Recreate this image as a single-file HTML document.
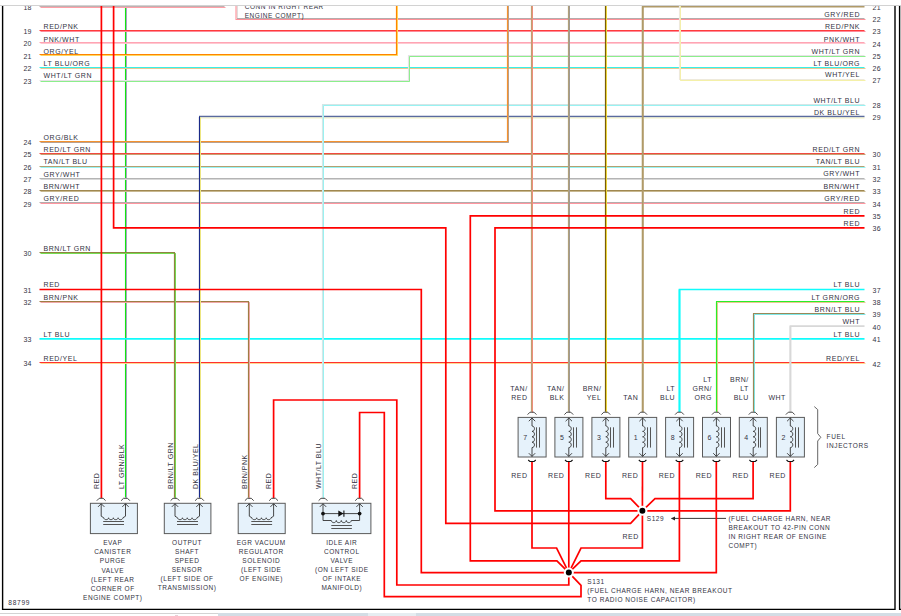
<!DOCTYPE html>
<html><head><meta charset="utf-8"><title>Wiring diagram</title>
<style>
html,body{margin:0;padding:0;background:#fff;overflow:hidden}
svg{display:block}
text{font-family:'Liberation Sans', Arial, sans-serif}
</style></head>
<body>
<svg width="901" height="616" viewBox="0 0 901 616">
<rect width="901" height="616" fill="#fff"/>
<polyline points="126.5,0.5 126.5,498.5" fill="none" stroke="#b0a0c8" stroke-width="1.0" stroke-opacity="1.0"/>
<polyline points="125.5,-0.5 125.5,497.5" fill="none" stroke="#10e610" stroke-width="1.1"/>
<polyline points="40.5,7.5 225.5,7.5" fill="none" stroke="#ffa0a8" stroke-width="1.0" stroke-opacity="1.0"/>
<polyline points="39.5,6.5 224.5,6.5" fill="none" stroke="#c0b0b0" stroke-width="1.1"/>
<path d="M237.2,0 V18" stroke="#c8c0c0" stroke-width="0.8"/>
<path d="M236,0 V19.5 H865.5" fill="none" stroke="#ff9098" stroke-width="1.1"/>
<path d="M237,18.5 H864.5" fill="none" stroke="#b4acac" stroke-width="1.0"/>
<polyline points="40.5,31.5 865.5,31.5" fill="none" stroke="#ff8a9a" stroke-width="1.0" stroke-opacity="1.0"/>
<polyline points="39.5,30.5 864.5,30.5" fill="none" stroke="#ff3b3b" stroke-width="1.1"/>
<polyline points="40.5,43.5 865.5,43.5" fill="none" stroke="#ffc8d0" stroke-width="1.0" stroke-opacity="1.0"/>
<polyline points="39.5,42.5 864.5,42.5" fill="none" stroke="#ffa4b4" stroke-width="1.1"/>
<polyline points="40.5,55.5 397.5,55.5 397.5,0.5" fill="none" stroke="#ffd860" stroke-width="1.0" stroke-opacity="1.0"/>
<polyline points="39.5,54.5 396.5,54.5 396.5,-0.5" fill="none" stroke="#ff8400" stroke-width="1.1"/>
<polyline points="40.5,68.5 865.5,68.5" fill="none" stroke="#e8c890" stroke-width="1.0" stroke-opacity="1.0"/>
<polyline points="39.5,67.5 864.5,67.5" fill="none" stroke="#38f0e8" stroke-width="1.1"/>
<polyline points="40.5,81.5 409.5,81.5 409.5,56.5 865.5,56.5" fill="none" stroke="#8cee8c" stroke-width="1.0" stroke-opacity="1.0"/>
<polyline points="39.5,80.5 408.5,80.5 408.5,55.5 864.5,55.5" fill="none" stroke="#e6e2e6" stroke-width="1.1"/>
<polyline points="642.7,412 642.7,6.6 864.5,6.6" fill="none" stroke="#b09a68" stroke-width="1.7"/>
<polyline points="680.5,0.5 680.5,80.5 865.5,80.5" fill="none" stroke="#f4f0a8" stroke-width="1.0" stroke-opacity="1.0"/>
<polyline points="679.5,-0.5 679.5,79.5 864.5,79.5" fill="none" stroke="#eeeadc" stroke-width="1.1"/>
<polyline points="323.5,498.5 323.5,105.5 865.5,105.5" fill="none" stroke="#98f2f2" stroke-width="1.0" stroke-opacity="1.0"/>
<polyline points="322.5,497.5 322.5,104.5 864.5,104.5" fill="none" stroke="#d4e6e6" stroke-width="1.1"/>
<polyline points="200.5,498.5 200.5,117.5" fill="none" stroke="#f8f080" stroke-width="1.0" stroke-opacity="1.0"/>
<polyline points="199.5,497.5 199.5,116.5" fill="none" stroke="#1a2a88" stroke-width="1.1"/>
<path d="M199,116.5 H864.5" stroke="#5a6a9e" stroke-width="1.3"/><path d="M200,118 H864.5" stroke="#f0f0b0" stroke-width="0.8"/>
<polyline points="40.5,142.5 508.5,142.5 508.5,0.5" fill="none" stroke="#b8a090" stroke-width="1.0" stroke-opacity="1.0"/>
<polyline points="39.5,141.5 507.5,141.5 507.5,-0.5" fill="none" stroke="#f4922e" stroke-width="1.1"/>
<polyline points="40.5,154.5 865.5,154.5" fill="none" stroke="#c8a070" stroke-width="1.0" stroke-opacity="1.0"/>
<polyline points="39.5,153.5 864.5,153.5" fill="none" stroke="#f04a40" stroke-width="1.1"/>
<polyline points="40.5,167.5 865.5,167.5" fill="none" stroke="#98f4f4" stroke-width="1.0" stroke-opacity="1.0"/>
<polyline points="39.5,166.5 864.5,166.5" fill="none" stroke="#b4a070" stroke-width="1.1"/>
<polyline points="40.5,179.5 865.5,179.5" fill="none" stroke="#d8d8d8" stroke-width="1.0" stroke-opacity="1.0"/>
<polyline points="39.5,178.5 864.5,178.5" fill="none" stroke="#b4b4b4" stroke-width="1.1"/>
<polyline points="40.5,191.5 865.5,191.5" fill="none" stroke="#c8b890" stroke-width="1.0" stroke-opacity="1.0"/>
<polyline points="39.5,190.5 864.5,190.5" fill="none" stroke="#a08850" stroke-width="1.1"/>
<polyline points="40.5,203.5 865.5,203.5" fill="none" stroke="#ff96a0" stroke-width="1.0" stroke-opacity="1.0"/>
<polyline points="39.5,202.5 864.5,202.5" fill="none" stroke="#b4acac" stroke-width="1.1"/>
<polyline points="40.5,253.5 175.5,253.5 175.5,498.5" fill="none" stroke="#74dc50" stroke-width="1.0" stroke-opacity="1.0"/>
<polyline points="39.5,252.5 174.5,252.5 174.5,497.5" fill="none" stroke="#8e8440" stroke-width="1.1"/>
<polyline points="40.5,302.5 249.5,302.5 249.5,498.5" fill="none" stroke="#f0a8a8" stroke-width="1.0" stroke-opacity="1.0"/>
<polyline points="39.5,301.5 248.5,301.5 248.5,497.5" fill="none" stroke="#a07c44" stroke-width="1.1"/>
<polyline points="39.5,338.8 864.5,338.8" fill="none" stroke="#10fcfc" stroke-width="1.7"/>
<polyline points="40.5,363.5 865.5,363.5" fill="none" stroke="#ffd890" stroke-width="1.0" stroke-opacity="1.0"/>
<polyline points="39.5,362.5 864.5,362.5" fill="none" stroke="#ff3030" stroke-width="1.1"/>
<polyline points="864.5,289.5 679.5,289.5 679.5,412" fill="none" stroke="#10fcfc" stroke-width="1.7"/>
<polyline points="865.5,302.5 717.5,302.5 717.5,412.5" fill="none" stroke="#e8c890" stroke-width="1.0" stroke-opacity="1.0"/>
<polyline points="864.5,301.5 716.5,301.5 716.5,411.5" fill="none" stroke="#28ee28" stroke-width="1.1"/>
<polyline points="865.5,314.5 754.5,314.5 754.5,412.5" fill="none" stroke="#80e8e8" stroke-width="1.0" stroke-opacity="1.0"/>
<polyline points="864.5,313.5 753.5,313.5 753.5,411.5" fill="none" stroke="#9a8858" stroke-width="1.1"/>
<polyline points="864.5,326.2 790.4,326.2 790.4,412" fill="none" stroke="#d8d8d8" stroke-width="1.7"/>
<polyline points="532.5,0.5 532.5,412.5" fill="none" stroke="#f08c7c" stroke-width="1.0" stroke-opacity="1.0"/>
<polyline points="531.5,-0.5 531.5,411.5" fill="none" stroke="#c0a070" stroke-width="1.1"/>
<polyline points="569.5,0.5 569.5,412.5" fill="none" stroke="#a09a94" stroke-width="1.0" stroke-opacity="1.0"/>
<polyline points="568.5,-0.5 568.5,411.5" fill="none" stroke="#b0a07a" stroke-width="1.1"/>
<polyline points="606.5,0.5 606.5,412.5" fill="none" stroke="#f0dc40" stroke-width="1.0" stroke-opacity="1.0"/>
<polyline points="605.5,-0.5 605.5,411.5" fill="none" stroke="#7a5c08" stroke-width="1.1"/>
<polyline points="397.5,55.5 397.5,0.5" fill="none" stroke="#ffd860" stroke-width="1.0" stroke-opacity="1.0"/>
<polyline points="396.5,54.5 396.5,-0.5" fill="none" stroke="#ff8400" stroke-width="1.1"/>
<polyline points="409.5,81.5 409.5,56.5" fill="none" stroke="#8cee8c" stroke-width="1.0" stroke-opacity="1.0"/>
<polyline points="408.5,80.5 408.5,55.5" fill="none" stroke="#e6e2e6" stroke-width="1.1"/>
<polyline points="642.7,412 642.7,6.6" fill="none" stroke="#b09a68" stroke-width="1.7"/>
<polyline points="680.5,0.5 680.5,80.5" fill="none" stroke="#f4f0a8" stroke-width="1.0" stroke-opacity="1.0"/>
<polyline points="679.5,-0.5 679.5,79.5" fill="none" stroke="#eeeadc" stroke-width="1.1"/>
<polyline points="323.5,498.5 323.5,105.5" fill="none" stroke="#98f2f2" stroke-width="1.0" stroke-opacity="1.0"/>
<polyline points="322.5,497.5 322.5,104.5" fill="none" stroke="#d4e6e6" stroke-width="1.1"/>
<polyline points="200.5,498.5 200.5,117.5" fill="none" stroke="#f8f080" stroke-width="1.0" stroke-opacity="1.0"/>
<polyline points="199.5,497.5 199.5,116.5" fill="none" stroke="#1a2a88" stroke-width="1.1"/>
<polyline points="508.5,142.5 508.5,0.5" fill="none" stroke="#b8a090" stroke-width="1.0" stroke-opacity="1.0"/>
<polyline points="507.5,141.5 507.5,-0.5" fill="none" stroke="#f4922e" stroke-width="1.1"/>
<polyline points="175.5,253.5 175.5,498.5" fill="none" stroke="#74dc50" stroke-width="1.0" stroke-opacity="1.0"/>
<polyline points="174.5,252.5 174.5,497.5" fill="none" stroke="#8e8440" stroke-width="1.1"/>
<polyline points="249.5,302.5 249.5,498.5" fill="none" stroke="#f0a8a8" stroke-width="1.0" stroke-opacity="1.0"/>
<polyline points="248.5,301.5 248.5,497.5" fill="none" stroke="#a07c44" stroke-width="1.1"/>
<polyline points="679.5,289.5 679.5,412" fill="none" stroke="#10fcfc" stroke-width="1.7"/>
<polyline points="717.5,302.5 717.5,412.5" fill="none" stroke="#e8c890" stroke-width="1.0" stroke-opacity="1.0"/>
<polyline points="716.5,301.5 716.5,411.5" fill="none" stroke="#28ee28" stroke-width="1.1"/>
<polyline points="754.5,314.5 754.5,412.5" fill="none" stroke="#80e8e8" stroke-width="1.0" stroke-opacity="1.0"/>
<polyline points="753.5,313.5 753.5,411.5" fill="none" stroke="#9a8858" stroke-width="1.1"/>
<polyline points="790.4,326.2 790.4,412" fill="none" stroke="#d8d8d8" stroke-width="1.7"/>
<polyline points="532.5,0.5 532.5,412.5" fill="none" stroke="#f08c7c" stroke-width="1.0" stroke-opacity="1.0"/>
<polyline points="531.5,-0.5 531.5,411.5" fill="none" stroke="#c0a070" stroke-width="1.1"/>
<polyline points="569.5,0.5 569.5,412.5" fill="none" stroke="#a09a94" stroke-width="1.0" stroke-opacity="1.0"/>
<polyline points="568.5,-0.5 568.5,411.5" fill="none" stroke="#b0a07a" stroke-width="1.1"/>
<polyline points="606.5,0.5 606.5,412.5" fill="none" stroke="#f0dc40" stroke-width="1.0" stroke-opacity="1.0"/>
<polyline points="605.5,-0.5 605.5,411.5" fill="none" stroke="#7a5c08" stroke-width="1.1"/>
<path d="M671.5,518.4 H726" stroke="#222" stroke-width="0.9"/><path d="M671,518.4 L675,516.4 L675,520.4 Z" fill="#222"/>
<polyline points="101.4,0 101.4,498" fill="none" stroke="#ff0000" stroke-width="1.7"/>
<polyline points="113.6,0 113.6,227.8 445.8,227.8 445.8,523.3 630.6,523.3 642.4,510.8" fill="none" stroke="#ff0000" stroke-width="1.7"/>
<polyline points="864.5,215.8 470.3,215.8 470.3,560.8 556.9,560.8 568.8,572.6" fill="none" stroke="#ff0000" stroke-width="1.7"/>
<polyline points="864.5,227.8 495,227.8 495,510.8 642.4,510.8" fill="none" stroke="#ff0000" stroke-width="1.7"/>
<polyline points="39.5,289.5 421.3,289.5 421.3,572.6 568.8,572.6" fill="none" stroke="#ff0000" stroke-width="1.7"/>
<polyline points="273.6,498 273.6,400 396.8,400 396.8,585 568.8,585 568.8,572.6" fill="none" stroke="#ff0000" stroke-width="1.7"/>
<polyline points="359.6,498 359.6,412.5 384.3,412.5 384.3,596.6 581,596.6 581,585.4 568.8,572.6" fill="none" stroke="#ff0000" stroke-width="1.7"/>
<polyline points="532,462 532,548 556.6,548 568.8,572.6" fill="none" stroke="#ff0000" stroke-width="1.7"/>
<polyline points="568.8,462 568.8,572.6" fill="none" stroke="#ff0000" stroke-width="1.7"/>
<polyline points="605.8,462 605.8,498.7 630.6,498.7 642.4,510.8" fill="none" stroke="#ff0000" stroke-width="1.7"/>
<polyline points="642.5,462 642.4,510.8" fill="none" stroke="#ff0000" stroke-width="1.7"/>
<polyline points="679.4,462 679.4,560.8 581,560.8 568.8,572.6" fill="none" stroke="#ff0000" stroke-width="1.7"/>
<polyline points="716.3,462 716.3,572.6 568.8,572.6" fill="none" stroke="#ff0000" stroke-width="1.7"/>
<polyline points="753.1,462 753.1,498.7 655,498.7 642.4,510.8" fill="none" stroke="#ff0000" stroke-width="1.7"/>
<polyline points="790.3,462 790.3,510.8 642.4,510.8" fill="none" stroke="#ff0000" stroke-width="1.7"/>
<polyline points="642.4,510.8 642.4,548 581,548 568.8,572.6" fill="none" stroke="#ff0000" stroke-width="1.7"/>
<circle cx="642.4" cy="510.8" r="5" fill="#fff"/>
<circle cx="642.4" cy="510.8" r="3" fill="#000"/>
<circle cx="568.8" cy="572.6" r="5" fill="#fff"/>
<circle cx="568.8" cy="572.6" r="3" fill="#000"/>
<text x="31.8" y="10.2" font-size="7" letter-spacing="0.3" text-anchor="end" fill="#33333f" >18</text>
<text x="31.8" y="34.2" font-size="7" letter-spacing="0.3" text-anchor="end" fill="#33333f" >19</text>
<text x="43.5" y="28.7" font-size="7" letter-spacing="0.57" text-anchor="start" fill="#33333f" >RED/PNK</text>
<text x="31.8" y="46.400000000000006" font-size="7" letter-spacing="0.3" text-anchor="end" fill="#33333f" >20</text>
<text x="43.5" y="41.800000000000004" font-size="7" letter-spacing="0.57" text-anchor="start" fill="#33333f" >PNK/WHT</text>
<text x="31.8" y="58.5" font-size="7" letter-spacing="0.3" text-anchor="end" fill="#33333f" >21</text>
<text x="43.5" y="53.8" font-size="7" letter-spacing="0.57" text-anchor="start" fill="#33333f" >ORG/YEL</text>
<text x="31.8" y="70.8" font-size="7" letter-spacing="0.3" text-anchor="end" fill="#33333f" >22</text>
<text x="43.5" y="66.3" font-size="7" letter-spacing="0.57" text-anchor="start" fill="#33333f" >LT BLU/ORG</text>
<text x="31.8" y="83.7" font-size="7" letter-spacing="0.3" text-anchor="end" fill="#33333f" >23</text>
<text x="43.5" y="78.2" font-size="7" letter-spacing="0.57" text-anchor="start" fill="#33333f" >WHT/LT GRN</text>
<text x="31.8" y="145.0" font-size="7" letter-spacing="0.3" text-anchor="end" fill="#33333f" >24</text>
<text x="43.5" y="139.5" font-size="7" letter-spacing="0.57" text-anchor="start" fill="#33333f" >ORG/BLK</text>
<text x="31.8" y="157.2" font-size="7" letter-spacing="0.3" text-anchor="end" fill="#33333f" >25</text>
<text x="43.5" y="151.7" font-size="7" letter-spacing="0.57" text-anchor="start" fill="#33333f" >RED/LT GRN</text>
<text x="31.8" y="169.6" font-size="7" letter-spacing="0.3" text-anchor="end" fill="#33333f" >26</text>
<text x="43.5" y="164.1" font-size="7" letter-spacing="0.57" text-anchor="start" fill="#33333f" >TAN/LT BLU</text>
<text x="31.8" y="181.79999999999998" font-size="7" letter-spacing="0.3" text-anchor="end" fill="#33333f" >27</text>
<text x="43.5" y="177.1" font-size="7" letter-spacing="0.57" text-anchor="start" fill="#33333f" >GRY/WHT</text>
<text x="31.8" y="194.0" font-size="7" letter-spacing="0.3" text-anchor="end" fill="#33333f" >28</text>
<text x="43.5" y="188.5" font-size="7" letter-spacing="0.57" text-anchor="start" fill="#33333f" >BRN/WHT</text>
<text x="31.8" y="206.6" font-size="7" letter-spacing="0.3" text-anchor="end" fill="#33333f" >29</text>
<text x="43.5" y="201.1" font-size="7" letter-spacing="0.57" text-anchor="start" fill="#33333f" >GRY/RED</text>
<text x="31.8" y="256.0" font-size="7" letter-spacing="0.3" text-anchor="end" fill="#33333f" >30</text>
<text x="43.5" y="250.5" font-size="7" letter-spacing="0.57" text-anchor="start" fill="#33333f" >BRN/LT GRN</text>
<text x="31.8" y="292.7" font-size="7" letter-spacing="0.3" text-anchor="end" fill="#33333f" >31</text>
<text x="43.5" y="287.2" font-size="7" letter-spacing="0.57" text-anchor="start" fill="#33333f" >RED</text>
<text x="31.8" y="305.0" font-size="7" letter-spacing="0.3" text-anchor="end" fill="#33333f" >32</text>
<text x="43.5" y="299.5" font-size="7" letter-spacing="0.57" text-anchor="start" fill="#33333f" >BRN/PNK</text>
<text x="31.8" y="342.0" font-size="7" letter-spacing="0.3" text-anchor="end" fill="#33333f" >33</text>
<text x="43.5" y="336.5" font-size="7" letter-spacing="0.57" text-anchor="start" fill="#33333f" >LT BLU</text>
<text x="31.8" y="366.2" font-size="7" letter-spacing="0.3" text-anchor="end" fill="#33333f" >34</text>
<text x="43.5" y="360.7" font-size="7" letter-spacing="0.57" text-anchor="start" fill="#33333f" >RED/YEL</text>
<text x="872.5" y="9.7" font-size="7" letter-spacing="0.3" text-anchor="start" fill="#33333f" >21</text>
<text x="872.5" y="22.1" font-size="7" letter-spacing="0.3" text-anchor="start" fill="#33333f" >22</text>
<text x="860.07" y="16.7" font-size="7" letter-spacing="0.57" text-anchor="end" fill="#33333f" >GRY/RED</text>
<text x="872.5" y="34.1" font-size="7" letter-spacing="0.3" text-anchor="start" fill="#33333f" >23</text>
<text x="860.07" y="28.7" font-size="7" letter-spacing="0.57" text-anchor="end" fill="#33333f" >RED/PNK</text>
<text x="872.5" y="47.1" font-size="7" letter-spacing="0.3" text-anchor="start" fill="#33333f" >24</text>
<text x="860.07" y="41.60000000000001" font-size="7" letter-spacing="0.57" text-anchor="end" fill="#33333f" >PNK/WHT</text>
<text x="872.5" y="59.300000000000004" font-size="7" letter-spacing="0.3" text-anchor="start" fill="#33333f" >25</text>
<text x="860.07" y="53.900000000000006" font-size="7" letter-spacing="0.57" text-anchor="end" fill="#33333f" >WHT/LT GRN</text>
<text x="872.5" y="70.69999999999999" font-size="7" letter-spacing="0.3" text-anchor="start" fill="#33333f" >26</text>
<text x="860.07" y="66.0" font-size="7" letter-spacing="0.57" text-anchor="end" fill="#33333f" >LT BLU/ORG</text>
<text x="872.5" y="82.6" font-size="7" letter-spacing="0.3" text-anchor="start" fill="#33333f" >27</text>
<text x="860.07" y="77.2" font-size="7" letter-spacing="0.57" text-anchor="end" fill="#33333f" >WHT/YEL</text>
<text x="872.5" y="108.1" font-size="7" letter-spacing="0.3" text-anchor="start" fill="#33333f" >28</text>
<text x="860.07" y="102.7" font-size="7" letter-spacing="0.57" text-anchor="end" fill="#33333f" >WHT/LT BLU</text>
<text x="872.5" y="119.89999999999999" font-size="7" letter-spacing="0.3" text-anchor="start" fill="#33333f" >29</text>
<text x="860.07" y="114.5" font-size="7" letter-spacing="0.57" text-anchor="end" fill="#33333f" >DK BLU/YEL</text>
<text x="872.5" y="157.1" font-size="7" letter-spacing="0.3" text-anchor="start" fill="#33333f" >30</text>
<text x="860.07" y="151.7" font-size="7" letter-spacing="0.57" text-anchor="end" fill="#33333f" >RED/LT GRN</text>
<text x="872.5" y="169.5" font-size="7" letter-spacing="0.3" text-anchor="start" fill="#33333f" >31</text>
<text x="860.07" y="164.1" font-size="7" letter-spacing="0.57" text-anchor="end" fill="#33333f" >TAN/LT BLU</text>
<text x="872.5" y="181.7" font-size="7" letter-spacing="0.3" text-anchor="start" fill="#33333f" >32</text>
<text x="860.07" y="176.29999999999998" font-size="7" letter-spacing="0.57" text-anchor="end" fill="#33333f" >GRY/WHT</text>
<text x="872.5" y="193.9" font-size="7" letter-spacing="0.3" text-anchor="start" fill="#33333f" >33</text>
<text x="860.07" y="188.5" font-size="7" letter-spacing="0.57" text-anchor="end" fill="#33333f" >BRN/WHT</text>
<text x="872.5" y="206.5" font-size="7" letter-spacing="0.3" text-anchor="start" fill="#33333f" >34</text>
<text x="860.07" y="201.1" font-size="7" letter-spacing="0.57" text-anchor="end" fill="#33333f" >GRY/RED</text>
<text x="872.5" y="218.9" font-size="7" letter-spacing="0.3" text-anchor="start" fill="#33333f" >35</text>
<text x="860.07" y="213.5" font-size="7" letter-spacing="0.57" text-anchor="end" fill="#33333f" >RED</text>
<text x="872.5" y="230.9" font-size="7" letter-spacing="0.3" text-anchor="start" fill="#33333f" >36</text>
<text x="860.07" y="225.5" font-size="7" letter-spacing="0.57" text-anchor="end" fill="#33333f" >RED</text>
<text x="872.5" y="292.6" font-size="7" letter-spacing="0.3" text-anchor="start" fill="#33333f" >37</text>
<text x="860.07" y="287.2" font-size="7" letter-spacing="0.57" text-anchor="end" fill="#33333f" >LT BLU</text>
<text x="872.5" y="304.90000000000003" font-size="7" letter-spacing="0.3" text-anchor="start" fill="#33333f" >38</text>
<text x="860.07" y="299.5" font-size="7" letter-spacing="0.57" text-anchor="end" fill="#33333f" >LT GRN/ORG</text>
<text x="872.5" y="316.90000000000003" font-size="7" letter-spacing="0.3" text-anchor="start" fill="#33333f" >39</text>
<text x="860.07" y="311.5" font-size="7" letter-spacing="0.57" text-anchor="end" fill="#33333f" >BRN/LT BLU</text>
<text x="872.5" y="330.1" font-size="7" letter-spacing="0.3" text-anchor="start" fill="#33333f" >40</text>
<text x="860.07" y="323.9" font-size="7" letter-spacing="0.57" text-anchor="end" fill="#33333f" >WHT</text>
<text x="872.5" y="341.90000000000003" font-size="7" letter-spacing="0.3" text-anchor="start" fill="#33333f" >41</text>
<text x="860.07" y="336.5" font-size="7" letter-spacing="0.57" text-anchor="end" fill="#33333f" >LT BLU</text>
<text x="872.5" y="366.70000000000005" font-size="7" letter-spacing="0.3" text-anchor="start" fill="#33333f" >42</text>
<text x="860.07" y="360.7" font-size="7" letter-spacing="0.57" text-anchor="end" fill="#33333f" >RED/YEL</text>
<text x="244.7" y="9.2" font-size="6.5" letter-spacing="0.55" text-anchor="start" fill="#33333f" >CONN IN RIGHT REAR</text>
<text x="244.7" y="18.3" font-size="6.5" letter-spacing="0.55" text-anchor="start" fill="#33333f" >ENGINE COMPT)</text>
<rect x="90.4" y="503.3" width="47.0" height="30.30000000000001" fill="#e6f2fb" stroke="#5a5a5a" stroke-width="1"/>
<path d="M96.8,500.7 L99.2,498.3 L103.2,498.3 L105.60000000000001,500.7" fill="none" stroke="#444" stroke-width="1"/>
<path d="M98.0,506.90000000000003 L101.2,503.7 L104.4,506.90000000000003" fill="none" stroke="#333" stroke-width="0.9"/>
<path d="M121.1,500.7 L123.5,498.3 L127.5,498.3 L129.9,500.7" fill="none" stroke="#444" stroke-width="1"/>
<path d="M122.3,506.90000000000003 L125.5,503.7 L128.7,506.90000000000003" fill="none" stroke="#333" stroke-width="0.9"/>
<path d="M101.2,503.8 V516.2 L103.8,517.8 M125.5,503.8 V516.2 L122.9,517.8" fill="none" stroke="#333" stroke-width="0.9"/>
<path d="M103.8,517.8 c0.23875000000000013,2.4699999999999998 4.536250000000002,2.4699999999999998 4.775000000000002,0 c0.23875000000000013,2.4699999999999998 4.536250000000002,2.4699999999999998 4.775000000000002,0 c0.23875000000000013,2.4699999999999998 4.536250000000002,2.4699999999999998 4.775000000000002,0 c0.23875000000000013,2.4699999999999998 4.536250000000002,2.4699999999999998 4.775000000000002,0" fill="none" stroke="#333" stroke-width="0.9"/>
<path d="M103.2,521.5 H124.0 M103.2,524.5 H124.0" stroke="#555" stroke-width="1"/>
<text x="112.77" y="545.0" font-size="6.5" letter-spacing="0.55" text-anchor="middle" fill="#33333f" >EVAP</text>
<text x="112.77" y="554.2" font-size="6.5" letter-spacing="0.55" text-anchor="middle" fill="#33333f" >CANISTER</text>
<text x="112.77" y="563.4" font-size="6.5" letter-spacing="0.55" text-anchor="middle" fill="#33333f" >PURGE</text>
<text x="112.77" y="572.6" font-size="6.5" letter-spacing="0.55" text-anchor="middle" fill="#33333f" >VALVE</text>
<text x="112.77" y="581.8" font-size="6.5" letter-spacing="0.55" text-anchor="middle" fill="#33333f" >(LEFT REAR</text>
<text x="112.77" y="591.0" font-size="6.5" letter-spacing="0.55" text-anchor="middle" fill="#33333f" >CORNER OF</text>
<text x="112.77" y="600.2" font-size="6.5" letter-spacing="0.55" text-anchor="middle" fill="#33333f" >ENGINE COMPT)</text>
<rect x="164.3" y="503.3" width="46.599999999999994" height="30.30000000000001" fill="#e6f2fb" stroke="#5a5a5a" stroke-width="1"/>
<path d="M170.6,500.7 L173,498.3 L177,498.3 L179.4,500.7" fill="none" stroke="#444" stroke-width="1"/>
<path d="M171.8,506.90000000000003 L175,503.7 L178.2,506.90000000000003" fill="none" stroke="#333" stroke-width="0.9"/>
<path d="M195.1,500.7 L197.5,498.3 L201.5,498.3 L203.9,500.7" fill="none" stroke="#444" stroke-width="1"/>
<path d="M196.3,506.90000000000003 L199.5,503.7 L202.7,506.90000000000003" fill="none" stroke="#333" stroke-width="0.9"/>
<path d="M175,503.8 V516.2 L177.6,517.8 M199.5,503.8 V516.2 L196.9,517.8" fill="none" stroke="#333" stroke-width="0.9"/>
<path d="M177.6,517.8 c0.24125000000000016,2.4699999999999998 4.583750000000003,2.4699999999999998 4.825000000000003,0 c0.24125000000000016,2.4699999999999998 4.583750000000003,2.4699999999999998 4.825000000000003,0 c0.24125000000000016,2.4699999999999998 4.583750000000003,2.4699999999999998 4.825000000000003,0 c0.24125000000000016,2.4699999999999998 4.583750000000003,2.4699999999999998 4.825000000000003,0" fill="none" stroke="#333" stroke-width="0.9"/>
<path d="M177,521.5 H198.0 M177,524.5 H198.0" stroke="#555" stroke-width="1"/>
<text x="187.07000000000002" y="545.0" font-size="6.5" letter-spacing="0.55" text-anchor="middle" fill="#33333f" >OUTPUT</text>
<text x="187.07000000000002" y="554.05" font-size="6.5" letter-spacing="0.55" text-anchor="middle" fill="#33333f" >SHAFT</text>
<text x="187.07000000000002" y="563.1" font-size="6.5" letter-spacing="0.55" text-anchor="middle" fill="#33333f" >SPEED</text>
<text x="187.07000000000002" y="572.15" font-size="6.5" letter-spacing="0.55" text-anchor="middle" fill="#33333f" >SENSOR</text>
<text x="187.07000000000002" y="581.2" font-size="6.5" letter-spacing="0.55" text-anchor="middle" fill="#33333f" >(LEFT SIDE OF</text>
<text x="187.07000000000002" y="590.25" font-size="6.5" letter-spacing="0.55" text-anchor="middle" fill="#33333f" >TRANSMISSION)</text>
<rect x="238.2" y="503.3" width="47.0" height="30.30000000000001" fill="#e6f2fb" stroke="#5a5a5a" stroke-width="1"/>
<path d="M244.9,500.7 L247.3,498.3 L251.3,498.3 L253.70000000000002,500.7" fill="none" stroke="#444" stroke-width="1"/>
<path d="M246.10000000000002,506.90000000000003 L249.3,503.7 L252.5,506.90000000000003" fill="none" stroke="#333" stroke-width="0.9"/>
<path d="M269.20000000000005,500.7 L271.6,498.3 L275.6,498.3 L278.0,500.7" fill="none" stroke="#444" stroke-width="1"/>
<path d="M270.40000000000003,506.90000000000003 L273.6,503.7 L276.8,506.90000000000003" fill="none" stroke="#333" stroke-width="0.9"/>
<path d="M249.3,503.8 V516.2 L251.9,517.8 M273.6,503.8 V516.2 L271.0,517.8" fill="none" stroke="#333" stroke-width="0.9"/>
<path d="M251.9,517.8 c0.23874999999999993,2.4699999999999998 4.536249999999998,2.4699999999999998 4.774999999999999,0 c0.23874999999999993,2.4699999999999998 4.536249999999998,2.4699999999999998 4.774999999999999,0 c0.23874999999999993,2.4699999999999998 4.536249999999998,2.4699999999999998 4.774999999999999,0 c0.23874999999999993,2.4699999999999998 4.536249999999998,2.4699999999999998 4.774999999999999,0" fill="none" stroke="#333" stroke-width="0.9"/>
<path d="M251.3,521.5 H272.1 M251.3,524.5 H272.1" stroke="#555" stroke-width="1"/>
<text x="261.27" y="545.0" font-size="6.5" letter-spacing="0.55" text-anchor="middle" fill="#33333f" >EGR VACUUM</text>
<text x="261.27" y="554.0" font-size="6.5" letter-spacing="0.55" text-anchor="middle" fill="#33333f" >REGULATOR</text>
<text x="261.27" y="563.0" font-size="6.5" letter-spacing="0.55" text-anchor="middle" fill="#33333f" >SOLENOID</text>
<text x="261.27" y="572.0" font-size="6.5" letter-spacing="0.55" text-anchor="middle" fill="#33333f" >(LEFT SIDE</text>
<text x="261.27" y="581.0" font-size="6.5" letter-spacing="0.55" text-anchor="middle" fill="#33333f" >OF ENGINE)</text>
<rect x="312.1" y="503.3" width="58.799999999999955" height="30.30000000000001" fill="#e6f2fb" stroke="#5a5a5a" stroke-width="1"/>
<path d="M318.6,500.7 L321,498.3 L325,498.3 L327.4,500.7" fill="none" stroke="#444" stroke-width="1"/>
<path d="M319.8,506.90000000000003 L323,503.7 L326.2,506.90000000000003" fill="none" stroke="#333" stroke-width="0.9"/>
<path d="M355.20000000000005,500.7 L357.6,498.3 L361.6,498.3 L364.0,500.7" fill="none" stroke="#444" stroke-width="1"/>
<path d="M356.40000000000003,506.90000000000003 L359.6,503.7 L362.8,506.90000000000003" fill="none" stroke="#333" stroke-width="0.9"/>
<path d="M323,503.8 V520.5 H331.3 M359.6,503.8 V520.5 H351.3 M323,513.6 H359.6" fill="none" stroke="#333" stroke-width="0.9"/>
<path d="M331.3,520.5 c0.25,2.8600000000000003 4.75,2.8600000000000003 5.0,0 c0.25,2.8600000000000003 4.75,2.8600000000000003 5.0,0 c0.25,2.8600000000000003 4.75,2.8600000000000003 5.0,0 c0.25,2.8600000000000003 4.75,2.8600000000000003 5.0,0" fill="none" stroke="#333" stroke-width="0.9"/>
<path d="M331.3,525.5 H351.90000000000003 M331.3,528.5 H351.90000000000003" stroke="#555" stroke-width="1"/>
<circle cx="323" cy="513.6" r="1.9" fill="#111"/><circle cx="359.6" cy="513.6" r="1.9" fill="#111"/>
<path d="M338.3,510.4 L343.5,513.6 L338.3,516.8 Z" fill="#111"/><path d="M343.90000000000003,510.4 V516.8" stroke="#111" stroke-width="1.1"/>
<text x="341.77" y="545.0" font-size="6.5" letter-spacing="0.55" text-anchor="middle" fill="#33333f" >IDLE AIR</text>
<text x="341.77" y="554.0" font-size="6.5" letter-spacing="0.55" text-anchor="middle" fill="#33333f" >CONTROL</text>
<text x="341.77" y="563.0" font-size="6.5" letter-spacing="0.55" text-anchor="middle" fill="#33333f" >VALVE</text>
<text x="341.77" y="572.0" font-size="6.5" letter-spacing="0.55" text-anchor="middle" fill="#33333f" >(ON LEFT SIDE</text>
<text x="341.77" y="581.0" font-size="6.5" letter-spacing="0.55" text-anchor="middle" fill="#33333f" >OF INTAKE</text>
<text x="341.77" y="590.0" font-size="6.5" letter-spacing="0.55" text-anchor="middle" fill="#33333f" >MANIFOLD)</text>
<text transform="translate(98.8,489) rotate(-90)" font-size="7" letter-spacing="0.5" fill="#33333f">RED</text>
<text transform="translate(124.0,489) rotate(-90)" font-size="7" letter-spacing="0.5" fill="#33333f">LT GRN/BLK</text>
<text transform="translate(172.6,489) rotate(-90)" font-size="7" letter-spacing="0.5" fill="#33333f">BRN/LT GRN</text>
<text transform="translate(198.1,489) rotate(-90)" font-size="7" letter-spacing="0.5" fill="#33333f">DK BLU/YEL</text>
<text transform="translate(246.8,489) rotate(-90)" font-size="7" letter-spacing="0.5" fill="#33333f">BRN/PNK</text>
<text transform="translate(271.2,489) rotate(-90)" font-size="7" letter-spacing="0.5" fill="#33333f">RED</text>
<text transform="translate(320.6,489) rotate(-90)" font-size="7" letter-spacing="0.5" fill="#33333f">WHT/LT BLU</text>
<text transform="translate(357.2,489) rotate(-90)" font-size="7" letter-spacing="0.5" fill="#33333f">RED</text>
<rect x="518.1" y="417.4" width="28.0" height="39.6" fill="#e6f2fb" stroke="#5a5a5a" stroke-width="1"/>
<path d="M527.6,414.59999999999997 L530,412.2 L534,412.2 L536.4,414.59999999999997" fill="none" stroke="#444" stroke-width="1"/>
<path d="M528.2,460.0 L529.9,461.5 L534.1,461.5 L535.8,460.0" fill="none" stroke="#111" stroke-width="1.1"/>
<path d="M528.8,421.20000000000005 L532,418.0 L535.2,421.20000000000005" fill="none" stroke="#333" stroke-width="0.9"/>
<path d="M528.8,453.2 L532,456.40000000000003 L535.2,453.2" fill="none" stroke="#333" stroke-width="0.9"/>
<path d="M532,418 V426 c3.3,0.2 3.3,5.2000000000000055 0,5.400000000000006 c3.3,0.2 3.3,5.2000000000000055 0,5.400000000000006 c3.3,0.2 3.3,5.2000000000000055 0,5.400000000000006 c3.3,0.2 3.3,5.2000000000000055 0,5.400000000000006 V456.5" fill="none" stroke="#333" stroke-width="0.9"/>
<path d="M536.5,427.3 V447.6 M539.5,427.3 V447.6" stroke="#555" stroke-width="1"/>
<text x="525.1" y="440.0" font-size="7" letter-spacing="0" text-anchor="middle" fill="#33333f" >7</text>
<text x="527.6" y="391.0" font-size="7" letter-spacing="0.5" text-anchor="end" fill="#33333f" >TAN/</text>
<text x="527.6" y="400.0" font-size="7" letter-spacing="0.5" text-anchor="end" fill="#33333f" >RED</text>
<text x="527.6" y="478" font-size="7" letter-spacing="0.5" text-anchor="end" fill="#33333f" >RED</text>
<rect x="554.9" y="417.4" width="28.0" height="39.6" fill="#e6f2fb" stroke="#5a5a5a" stroke-width="1"/>
<path d="M564.4,414.59999999999997 L566.8,412.2 L570.8,412.2 L573.1999999999999,414.59999999999997" fill="none" stroke="#444" stroke-width="1"/>
<path d="M565.0,460.0 L566.6999999999999,461.5 L570.9,461.5 L572.5999999999999,460.0" fill="none" stroke="#111" stroke-width="1.1"/>
<path d="M565.5999999999999,421.20000000000005 L568.8,418.0 L572.0,421.20000000000005" fill="none" stroke="#333" stroke-width="0.9"/>
<path d="M565.5999999999999,453.2 L568.8,456.40000000000003 L572.0,453.2" fill="none" stroke="#333" stroke-width="0.9"/>
<path d="M568.8,418 V426 c3.3,0.2 3.3,5.2000000000000055 0,5.400000000000006 c3.3,0.2 3.3,5.2000000000000055 0,5.400000000000006 c3.3,0.2 3.3,5.2000000000000055 0,5.400000000000006 c3.3,0.2 3.3,5.2000000000000055 0,5.400000000000006 V456.5" fill="none" stroke="#333" stroke-width="0.9"/>
<path d="M573.5,427.3 V447.6 M576.5,427.3 V447.6" stroke="#555" stroke-width="1"/>
<text x="561.9" y="440.0" font-size="7" letter-spacing="0" text-anchor="middle" fill="#33333f" >5</text>
<text x="564.4" y="391.0" font-size="7" letter-spacing="0.5" text-anchor="end" fill="#33333f" >TAN/</text>
<text x="564.4" y="400.0" font-size="7" letter-spacing="0.5" text-anchor="end" fill="#33333f" >BLK</text>
<text x="564.4" y="478" font-size="7" letter-spacing="0.5" text-anchor="end" fill="#33333f" >RED</text>
<rect x="591.9" y="417.4" width="28.0" height="39.6" fill="#e6f2fb" stroke="#5a5a5a" stroke-width="1"/>
<path d="M601.4,414.59999999999997 L603.8,412.2 L607.8,412.2 L610.1999999999999,414.59999999999997" fill="none" stroke="#444" stroke-width="1"/>
<path d="M602.0,460.0 L603.6999999999999,461.5 L607.9,461.5 L609.5999999999999,460.0" fill="none" stroke="#111" stroke-width="1.1"/>
<path d="M602.5999999999999,421.20000000000005 L605.8,418.0 L609.0,421.20000000000005" fill="none" stroke="#333" stroke-width="0.9"/>
<path d="M602.5999999999999,453.2 L605.8,456.40000000000003 L609.0,453.2" fill="none" stroke="#333" stroke-width="0.9"/>
<path d="M605.8,418 V426 c3.3,0.2 3.3,5.2000000000000055 0,5.400000000000006 c3.3,0.2 3.3,5.2000000000000055 0,5.400000000000006 c3.3,0.2 3.3,5.2000000000000055 0,5.400000000000006 c3.3,0.2 3.3,5.2000000000000055 0,5.400000000000006 V456.5" fill="none" stroke="#333" stroke-width="0.9"/>
<path d="M610.5,427.3 V447.6 M613.5,427.3 V447.6" stroke="#555" stroke-width="1"/>
<text x="598.9" y="440.0" font-size="7" letter-spacing="0" text-anchor="middle" fill="#33333f" >3</text>
<text x="601.4" y="391.0" font-size="7" letter-spacing="0.5" text-anchor="end" fill="#33333f" >BRN/</text>
<text x="601.4" y="400.0" font-size="7" letter-spacing="0.5" text-anchor="end" fill="#33333f" >YEL</text>
<text x="601.4" y="478" font-size="7" letter-spacing="0.5" text-anchor="end" fill="#33333f" >RED</text>
<rect x="628.7" y="417.4" width="28.0" height="39.6" fill="#e6f2fb" stroke="#5a5a5a" stroke-width="1"/>
<path d="M638.2,414.59999999999997 L640.6,412.2 L644.6,412.2 L647.0,414.59999999999997" fill="none" stroke="#444" stroke-width="1"/>
<path d="M638.8000000000001,460.0 L640.5,461.5 L644.7,461.5 L646.4,460.0" fill="none" stroke="#111" stroke-width="1.1"/>
<path d="M639.4,421.20000000000005 L642.6,418.0 L645.8000000000001,421.20000000000005" fill="none" stroke="#333" stroke-width="0.9"/>
<path d="M639.4,453.2 L642.6,456.40000000000003 L645.8000000000001,453.2" fill="none" stroke="#333" stroke-width="0.9"/>
<path d="M642.6,418 V426 c3.3,0.2 3.3,5.2000000000000055 0,5.400000000000006 c3.3,0.2 3.3,5.2000000000000055 0,5.400000000000006 c3.3,0.2 3.3,5.2000000000000055 0,5.400000000000006 c3.3,0.2 3.3,5.2000000000000055 0,5.400000000000006 V456.5" fill="none" stroke="#333" stroke-width="0.9"/>
<path d="M647.5,427.3 V447.6 M650.5,427.3 V447.6" stroke="#555" stroke-width="1"/>
<text x="635.7" y="440.0" font-size="7" letter-spacing="0" text-anchor="middle" fill="#33333f" >1</text>
<text x="638.2" y="400.0" font-size="7" letter-spacing="0.5" text-anchor="end" fill="#33333f" >TAN</text>
<text x="638.2" y="478" font-size="7" letter-spacing="0.5" text-anchor="end" fill="#33333f" >RED</text>
<rect x="665.6" y="417.4" width="28.0" height="39.6" fill="#e6f2fb" stroke="#5a5a5a" stroke-width="1"/>
<path d="M675.1,414.59999999999997 L677.5,412.2 L681.5,412.2 L683.9,414.59999999999997" fill="none" stroke="#444" stroke-width="1"/>
<path d="M675.7,460.0 L677.4,461.5 L681.6,461.5 L683.3,460.0" fill="none" stroke="#111" stroke-width="1.1"/>
<path d="M676.3,421.20000000000005 L679.5,418.0 L682.7,421.20000000000005" fill="none" stroke="#333" stroke-width="0.9"/>
<path d="M676.3,453.2 L679.5,456.40000000000003 L682.7,453.2" fill="none" stroke="#333" stroke-width="0.9"/>
<path d="M679.5,418 V426 c3.3,0.2 3.3,5.2000000000000055 0,5.400000000000006 c3.3,0.2 3.3,5.2000000000000055 0,5.400000000000006 c3.3,0.2 3.3,5.2000000000000055 0,5.400000000000006 c3.3,0.2 3.3,5.2000000000000055 0,5.400000000000006 V456.5" fill="none" stroke="#333" stroke-width="0.9"/>
<path d="M684.5,427.3 V447.6 M687.5,427.3 V447.6" stroke="#555" stroke-width="1"/>
<text x="672.6" y="440.0" font-size="7" letter-spacing="0" text-anchor="middle" fill="#33333f" >8</text>
<text x="675.1" y="391.0" font-size="7" letter-spacing="0.5" text-anchor="end" fill="#33333f" >LT</text>
<text x="675.1" y="400.0" font-size="7" letter-spacing="0.5" text-anchor="end" fill="#33333f" >BLU</text>
<text x="675.1" y="478" font-size="7" letter-spacing="0.5" text-anchor="end" fill="#33333f" >RED</text>
<rect x="702.5" y="417.4" width="28.0" height="39.6" fill="#e6f2fb" stroke="#5a5a5a" stroke-width="1"/>
<path d="M712.0,414.59999999999997 L714.4,412.2 L718.4,412.2 L720.8,414.59999999999997" fill="none" stroke="#444" stroke-width="1"/>
<path d="M712.6,460.0 L714.3,461.5 L718.5,461.5 L720.1999999999999,460.0" fill="none" stroke="#111" stroke-width="1.1"/>
<path d="M713.1999999999999,421.20000000000005 L716.4,418.0 L719.6,421.20000000000005" fill="none" stroke="#333" stroke-width="0.9"/>
<path d="M713.1999999999999,453.2 L716.4,456.40000000000003 L719.6,453.2" fill="none" stroke="#333" stroke-width="0.9"/>
<path d="M716.4,418 V426 c3.3,0.2 3.3,5.2000000000000055 0,5.400000000000006 c3.3,0.2 3.3,5.2000000000000055 0,5.400000000000006 c3.3,0.2 3.3,5.2000000000000055 0,5.400000000000006 c3.3,0.2 3.3,5.2000000000000055 0,5.400000000000006 V456.5" fill="none" stroke="#333" stroke-width="0.9"/>
<path d="M721.5,427.3 V447.6 M724.5,427.3 V447.6" stroke="#555" stroke-width="1"/>
<text x="709.5" y="440.0" font-size="7" letter-spacing="0" text-anchor="middle" fill="#33333f" >6</text>
<text x="712.0" y="382.0" font-size="7" letter-spacing="0.5" text-anchor="end" fill="#33333f" >LT</text>
<text x="712.0" y="391.0" font-size="7" letter-spacing="0.5" text-anchor="end" fill="#33333f" >GRN/</text>
<text x="712.0" y="400.0" font-size="7" letter-spacing="0.5" text-anchor="end" fill="#33333f" >ORG</text>
<text x="712.0" y="478" font-size="7" letter-spacing="0.5" text-anchor="end" fill="#33333f" >RED</text>
<rect x="739.3000000000001" y="417.4" width="28.0" height="39.6" fill="#e6f2fb" stroke="#5a5a5a" stroke-width="1"/>
<path d="M748.8000000000001,414.59999999999997 L751.2,412.2 L755.2,412.2 L757.6,414.59999999999997" fill="none" stroke="#444" stroke-width="1"/>
<path d="M749.4000000000001,460.0 L751.1,461.5 L755.3000000000001,461.5 L757.0,460.0" fill="none" stroke="#111" stroke-width="1.1"/>
<path d="M750.0,421.20000000000005 L753.2,418.0 L756.4000000000001,421.20000000000005" fill="none" stroke="#333" stroke-width="0.9"/>
<path d="M750.0,453.2 L753.2,456.40000000000003 L756.4000000000001,453.2" fill="none" stroke="#333" stroke-width="0.9"/>
<path d="M753.2,418 V426 c3.3,0.2 3.3,5.2000000000000055 0,5.400000000000006 c3.3,0.2 3.3,5.2000000000000055 0,5.400000000000006 c3.3,0.2 3.3,5.2000000000000055 0,5.400000000000006 c3.3,0.2 3.3,5.2000000000000055 0,5.400000000000006 V456.5" fill="none" stroke="#333" stroke-width="0.9"/>
<path d="M758.5,427.3 V447.6 M760.5,427.3 V447.6" stroke="#555" stroke-width="1"/>
<text x="746.3000000000001" y="440.0" font-size="7" letter-spacing="0" text-anchor="middle" fill="#33333f" >4</text>
<text x="748.8000000000001" y="382.0" font-size="7" letter-spacing="0.5" text-anchor="end" fill="#33333f" >BRN/</text>
<text x="748.8000000000001" y="391.0" font-size="7" letter-spacing="0.5" text-anchor="end" fill="#33333f" >LT</text>
<text x="748.8000000000001" y="400.0" font-size="7" letter-spacing="0.5" text-anchor="end" fill="#33333f" >BLU</text>
<text x="748.8000000000001" y="478" font-size="7" letter-spacing="0.5" text-anchor="end" fill="#33333f" >RED</text>
<rect x="776.4" y="417.4" width="28.0" height="39.6" fill="#e6f2fb" stroke="#5a5a5a" stroke-width="1"/>
<path d="M785.9,414.59999999999997 L788.3,412.2 L792.3,412.2 L794.6999999999999,414.59999999999997" fill="none" stroke="#444" stroke-width="1"/>
<path d="M786.5,460.0 L788.1999999999999,461.5 L792.4,461.5 L794.0999999999999,460.0" fill="none" stroke="#111" stroke-width="1.1"/>
<path d="M787.0999999999999,421.20000000000005 L790.3,418.0 L793.5,421.20000000000005" fill="none" stroke="#333" stroke-width="0.9"/>
<path d="M787.0999999999999,453.2 L790.3,456.40000000000003 L793.5,453.2" fill="none" stroke="#333" stroke-width="0.9"/>
<path d="M790.3,418 V426 c3.3,0.2 3.3,5.2000000000000055 0,5.400000000000006 c3.3,0.2 3.3,5.2000000000000055 0,5.400000000000006 c3.3,0.2 3.3,5.2000000000000055 0,5.400000000000006 c3.3,0.2 3.3,5.2000000000000055 0,5.400000000000006 V456.5" fill="none" stroke="#333" stroke-width="0.9"/>
<path d="M795.5,427.3 V447.6 M798.5,427.3 V447.6" stroke="#555" stroke-width="1"/>
<text x="783.4" y="440.0" font-size="7" letter-spacing="0" text-anchor="middle" fill="#33333f" >2</text>
<text x="785.9" y="400.0" font-size="7" letter-spacing="0.5" text-anchor="end" fill="#33333f" >WHT</text>
<text x="785.9" y="478" font-size="7" letter-spacing="0.5" text-anchor="end" fill="#33333f" >RED</text>
<path d="M814.3,406.6 L817.7,409.6 V433.6 L820.8,437.3 L817.7,441 V464.4 L814.3,467.6" fill="none" stroke="#555" stroke-width="0.9"/>
<text x="826.6" y="439.0" font-size="6.5" letter-spacing="0.6" text-anchor="start" fill="#33333f" >FUEL</text>
<text x="826.6" y="448.0" font-size="6.5" letter-spacing="0.6" text-anchor="start" fill="#33333f" >INJECTORS</text>
<text x="646.8" y="521" font-size="6.5" letter-spacing="0.55" text-anchor="start" fill="#33333f" >S129</text>
<text x="728.4" y="521.0" font-size="6.5" letter-spacing="0.55" text-anchor="start" fill="#33333f" >(FUEL CHARGE HARN, NEAR</text>
<text x="728.4" y="530.05" font-size="6.5" letter-spacing="0.55" text-anchor="start" fill="#33333f" >BREAKOUT TO 42-PIN CONN</text>
<text x="728.4" y="539.1" font-size="6.5" letter-spacing="0.55" text-anchor="start" fill="#33333f" >IN RIGHT REAR OF ENGINE</text>
<text x="728.4" y="548.15" font-size="6.5" letter-spacing="0.55" text-anchor="start" fill="#33333f" >COMPT)</text>
<text x="622.5" y="539" font-size="7" letter-spacing="0.5" text-anchor="start" fill="#33333f" >RED</text>
<text x="587.3" y="584.2" font-size="6.5" letter-spacing="0.55" text-anchor="start" fill="#33333f" >S131</text>
<text x="587.3" y="593.0" font-size="6.5" letter-spacing="0.55" text-anchor="start" fill="#33333f" >(FUEL CHARGE HARN, NEAR BREAKOUT</text>
<text x="587.3" y="602.1" font-size="6.5" letter-spacing="0.55" text-anchor="start" fill="#33333f" >TO RADIO NOISE CAPACITOR)</text>
<text x="8.3" y="605.3" font-size="6.6" letter-spacing="0.7" text-anchor="start" fill="#33333f" >88799</text>
<rect x="0" y="0" width="901" height="5" fill="#fff"/>
<rect x="0" y="5" width="901" height="1" fill="#d2d2d2"/>
<path d="M2.6,6 V609.4 H895 V6" fill="none" stroke="#000" stroke-width="1.4"/>
<path d="M899.6,6 V609.4 H901" fill="none" stroke="#000" stroke-width="1.4"/>
<rect x="0" y="610.3" width="901" height="5.7" fill="#fff"/>
<rect x="0" y="613" width="218" height="0.8" fill="#c8c8c8"/>
<rect x="218" y="613" width="683" height="3" fill="#d3dde5"/>
<rect x="368" y="613" width="48" height="3" fill="#e6edf1"/>
<rect x="175" y="615" width="3" height="1" fill="#e8d0d8"/>
</svg>
</body></html>
